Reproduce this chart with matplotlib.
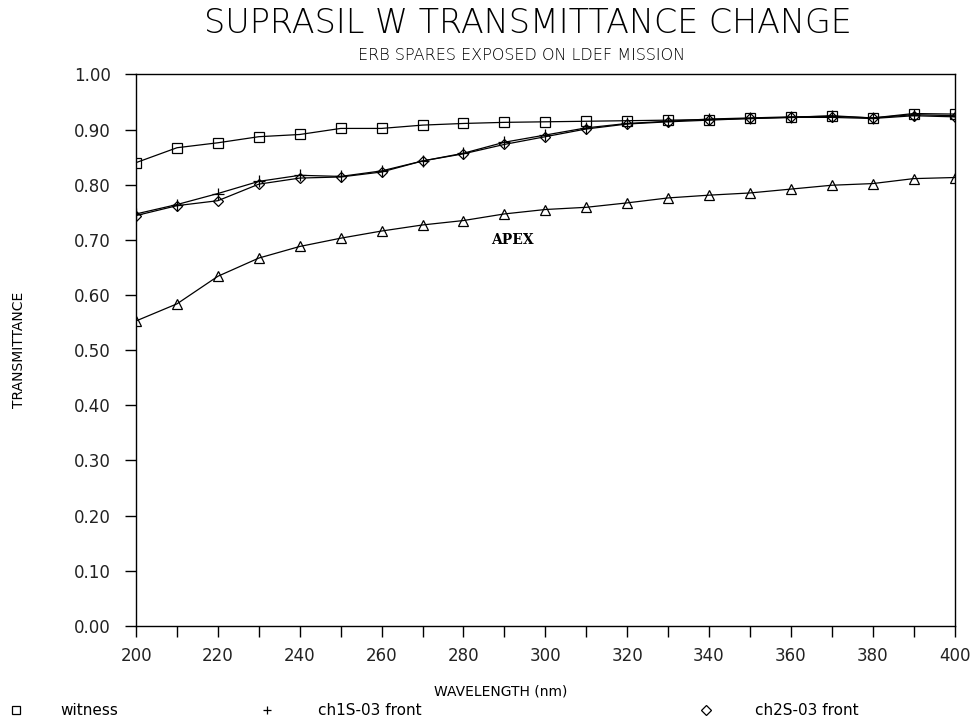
import numpy as np
import matplotlib
matplotlib.use('Agg')
import matplotlib.pyplot as plt
from matplotlib.lines import Line2D

wavelength = [200, 210, 220, 230, 240, 250, 260, 270, 280, 290, 300,
              310, 320, 330, 340, 350, 360, 370, 380, 390, 400]

witness = [0.840, 0.867, 0.876, 0.887, 0.891, 0.902, 0.902, 0.908, 0.911, 0.913, 0.914,
           0.915, 0.916, 0.917, 0.918, 0.920, 0.922, 0.925, 0.921, 0.929, 0.928]
ch1s_front = [0.747, 0.764, 0.784, 0.806, 0.817, 0.815, 0.825, 0.843, 0.857, 0.877, 0.890,
              0.903, 0.911, 0.915, 0.919, 0.921, 0.923, 0.924, 0.921, 0.927, 0.925]
ch2s_front = [0.744, 0.762, 0.771, 0.801, 0.812, 0.814, 0.823, 0.843, 0.856, 0.873, 0.887,
              0.901, 0.910, 0.914, 0.917, 0.920, 0.922, 0.922, 0.920, 0.925, 0.923]
apex = [0.553, 0.584, 0.634, 0.667, 0.688, 0.703, 0.716, 0.727, 0.735, 0.747, 0.755,
        0.759, 0.767, 0.776, 0.781, 0.785, 0.792, 0.799, 0.802, 0.811, 0.813]

x_ticks = np.arange(200, 401, 20)
y_ticks = np.arange(0.0, 1.001, 0.1)

LINE_STYLING = {
    'color': 'black',
    'linewidth': 0.9,
    'markersize': 7,
    'markerfacecolor': 'none',
    'markeredgecolor': 'black',
    'markeredgewidth': 0.9,
}

fig = plt.figure(figsize=(9.72, 7.22), dpi=100)
ax = fig.add_axes([0.140, 0.133, 0.842, 0.764])

ax.plot(wavelength, witness, marker='s', **LINE_STYLING)
ax.plot(wavelength, ch1s_front, marker='+', **{**LINE_STYLING, 'markersize': 8})
ax.plot(wavelength, ch2s_front, marker='D', **{**LINE_STYLING, 'markersize': 5.5})
ax.plot(wavelength, apex, marker='^', **LINE_STYLING)

ax.text(292, 0.70, 'APEX', ha='center', va='center', fontsize=10,
        fontweight='bold', family='DejaVu Serif')

ax.set_xlim(200, 400)
ax.set_ylim(0, 1.0)
ax.set_xticks(x_ticks)
ax.set_xticks(np.arange(200, 401, 10), minor=True)
ax.set_yticks(y_ticks)
ax.set_yticklabels([f'{v:.2f}' for v in y_ticks])
ax.tick_params(axis='both', which='both', direction='out', length=8,
               width=1, labelsize=12, labelcolor='#222222')
ax.tick_params(axis='y', pad=10)
ax.tick_params(axis='x', pad=7)
for s in ax.spines.values():
    s.set_linewidth(1)

ax.set_ylabel('TRANSMITTANCE', fontsize=10)
ax.yaxis.set_label_coords(-0.135, 0.5)
fig.text(0.515, 0.042, 'WAVELENGTH (nm)', ha='center', va='center', fontsize=10)

fig.text(0.543, 0.968, 'SUPRASIL W TRANSMITTANCE CHANGE', ha='center',
         va='center', fontsize=24, fontweight='light')
fig.text(0.537, 0.923, 'ERB SPARES EXPOSED ON LDEF MISSION', ha='center',
         va='center', fontsize=11.5, fontweight='light')

legend_items = [
    ('s', 0.016, 'witness', 0.062),
    ('+', 0.275, 'ch1S-03 front', 0.327),
    ('D', 0.726, 'ch2S-03 front', 0.777),
]
for mk, mx, label, tx in legend_items:
    fig.add_artist(Line2D([mx], [0.016], marker=mk, color='black',
                          markerfacecolor='none', markersize=6 if mk != 'D' else 5,
                          markeredgewidth=0.9, transform=fig.transFigure))
    fig.text(tx, 0.016, label, ha='left', va='center', fontsize=11)

fig.savefig('out.png', dpi=100)
